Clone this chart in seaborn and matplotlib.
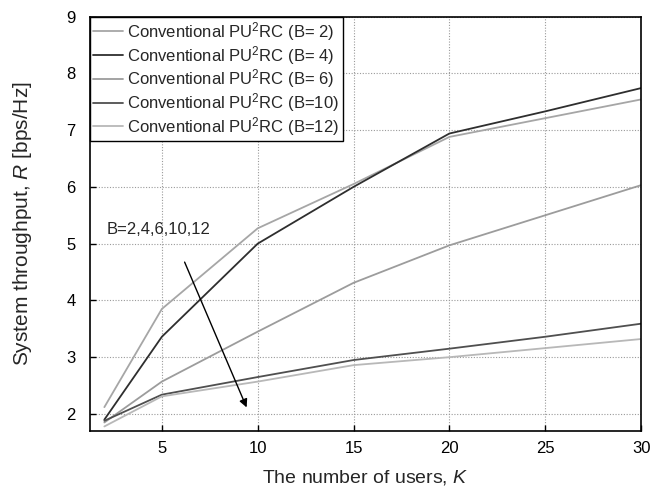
import numpy as np
import pandas as pd
import matplotlib
matplotlib.use("Agg")
import matplotlib.pyplot as plt
import seaborn as sns

users = [2, 5, 10, 15, 20, 25, 30]
b_labels = ["B= 2", "B= 4", "B= 6", "B=10", "B=12"]
thr_b2 = [2.12, 3.85, 5.27, 6.05, 6.88, 7.21, 7.54]
thr_b4 = [1.90, 3.36, 5.00, 6.00, 6.94, 7.33, 7.74]
thr_b6 = [1.85, 2.57, 3.45, 4.31, 4.97, 5.50, 6.03]
thr_b10 = [1.88, 2.34, 2.65, 2.95, 3.15, 3.36, 3.59]
thr_b12 = [1.78, 2.31, 2.57, 2.86, 3.00, 3.16, 3.32]
colors = ["#a6a6a6", "#2e2e2e", "#9c9c9c", "#4f4f4f", "#b8b8b8"]

rows = []
for lab, vals in zip(b_labels, [thr_b2, thr_b4, thr_b6, thr_b10, thr_b12]):
    for k, v in zip(users, vals):
        rows.append({"K": k, "R": v, "B": "Conventional PU$^2$RC (" + lab + ")"})
df = pd.DataFrame(rows)

sns.set_style("ticks")
plt.rcParams["font.family"] = ["Liberation Sans", "DejaVu Sans"]
plt.rcParams["mathtext.fontset"] = "custom"
plt.rcParams["mathtext.rm"] = "Liberation Sans"
plt.rcParams["mathtext.it"] = "Liberation Sans:italic"

fig = plt.figure(figsize=(6.64, 4.87), dpi=100)
ax = fig.add_axes([0.1355, 0.115, 0.83, 0.851])

sns.lineplot(data=df, x="K", y="R", hue="B", palette=colors, linewidth=1.3, ax=ax)

ax.set_xlim(1.25, 30)
ax.set_ylim(1.7, 9)
ax.set_xticks([5, 10, 15, 20, 25, 30])
ax.set_yticks([2, 3, 4, 5, 6, 7, 8, 9])
ax.grid(True, linestyle=(0, (1, 1.5)), color="#9a9a9a", linewidth=0.8)
ax.tick_params(direction="in", length=4, labelsize=12, colors="black", width=1)
ax.tick_params(axis="x", pad=7)
ax.tick_params(axis="y", pad=10.5)
for s in ax.spines.values():
    s.set_linewidth(1.2)
    s.set_color("black")

ax.set_xlabel("The number of users, $\\it{K}$", fontsize=14)
ax.set_ylabel("System throughput, $\\it{R}$ [bps/Hz]", fontsize=15)
ax.xaxis.set_label_coords(0.5, -0.09)
ax.yaxis.set_label_coords(-0.102, 0.5)

leg = ax.legend(loc="upper left", borderaxespad=0, fontsize=12, frameon=True,
                fancybox=False, edgecolor="black", labelspacing=0.05,
                handlelength=1.8, handletextpad=0.25, borderpad=0.2)
leg.get_frame().set_linewidth(1.0)
leg.get_frame().set_alpha(1)

ax.text(2.14, 5.25, "B=2,4,6,10,12", fontsize=12, va="center", ha="left")
ax.annotate("", xy=(9.48, 2.07), xytext=(6.13, 4.72),
            arrowprops=dict(arrowstyle="-|>", color="black", lw=1.0,
                            mutation_scale=12))

fig.savefig("out.png", dpi=100)
